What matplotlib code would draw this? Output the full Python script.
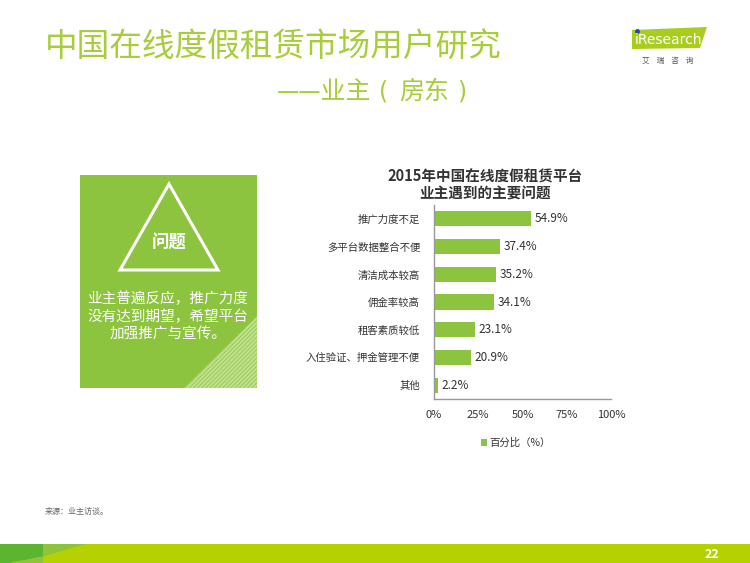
import matplotlib
matplotlib.use("Agg")
import matplotlib.pyplot as plt
from matplotlib.patches import Polygon, Rectangle

plt.rcParams['font.family'] = ['Noto Sans CJK SC', 'DejaVu Sans']

categories = ['推广力度不足', '多平台数据整合不便', '清洁成本较高', '佣金率较高',
              '租客素质较低', '入住验证、押金管理不便', '其他']
values = [54.9, 37.4, 35.2, 34.1, 23.1, 20.9, 2.2]
xticks = [0, 25, 50, 75, 100]
xtick_labels = ['0%', '25%', '50%', '75%', '100%']

W, H = 750, 563
BAR = '#8cc43f'
TITLE_GREEN = '#a8cd3a'

fig = plt.figure(figsize=(7.5, 5.63), dpi=100)
fig.patch.set_facecolor('white')

# background layer in pixel coordinates
bg = fig.add_axes([0, 0, 1, 1])
bg.set_xlim(0, W)
bg.set_ylim(H, 0)
bg.axis('off')

# page title
bg.text(45, 47, '中国在线度假租赁市场用户研究', fontsize=23.5, color=TITLE_GREEN,
        va='center', ha='left')
bg.text(277, 92, '——业主', fontsize=18, color=TITLE_GREEN,
        va='center', ha='left')
bg.text(384, 92, '(', fontsize=17, color=TITLE_GREEN, va='center',
        ha='center', family='DejaVu Sans')
bg.text(399, 92, '房东', fontsize=18, color=TITLE_GREEN,
        va='center', ha='left')
bg.text(462, 92, ')', fontsize=17, color=TITLE_GREEN, va='center',
        ha='center', family='DejaVu Sans')

# logo
bg.add_patch(Polygon([(632, 30), (707, 27), (700, 48), (632, 49)],
                     closed=True, facecolor='#a8cd1e', edgecolor='none'))
bg.text(635, 39.5, 'iResearch', fontsize=10, color='white', va='center',
        ha='left', family='DejaVu Sans')
bg.plot([636.5], [31], marker='o', markersize=2.5, color='#1f4e9c')
bg.text(668, 61, '艾    瑞    咨    询', fontsize=5.5, color='#555555',
        va='center', ha='center')

# left panel
bg.add_patch(Rectangle((80, 175), 177, 213, facecolor='#8cc43f',
                       edgecolor='none'))
bg.add_patch(Polygon([(257, 316), (257, 388), (184, 388)], closed=True,
                     facecolor='#a2d05e', edgecolor='#c6e39c',
                     hatch='////////', linewidth=0))
bg.add_patch(Polygon([(169, 184), (218, 270), (120, 270)], closed=True,
                     facecolor='none', edgecolor='white', linewidth=2.2))
bg.text(169, 243, '问题', fontsize=12.5, color='white', weight='bold',
        va='center', ha='center')
bg.text(168, 316, '业主普遍反应，推广力度\n没有达到期望，希望平台\n加强推广与宣传。',
        fontsize=10.5, color='white', va='center', ha='center',
        linespacing=1.25)

# source note
bg.text(45, 511, '来源：业主访谈。', fontsize=5.8, color='#666666',
        va='center', ha='left')

# footer band
bg.add_patch(Rectangle((0, 544), W, 19, facecolor='#b5d200', edgecolor='none'))
bg.add_patch(Polygon([(43, 544), (86, 544), (43, 556.5)], closed=True,
                     facecolor='#8fc43a', edgecolor='none'))
bg.add_patch(Polygon([(0, 544), (43, 544), (43, 556.5), (10, 563), (0, 563)],
                     closed=True, facecolor='#5cb531', edgecolor='none'))
bg.add_patch(Polygon([(10, 563), (43, 556.5), (43, 563)], closed=True,
                     facecolor='#8fc43a', edgecolor='none'))
bg.text(712, 554, '22', fontsize=9, color='white', weight='bold',
        va='center', ha='center')

# bar chart
ax = fig.add_axes([434 / W, 1 - 399 / H, (611 - 434) / W, (399 - 205) / H])
pos = list(range(len(categories)))
ax.barh(pos, values, height=0.55, color=BAR)
ax.set_ylim(len(categories) - 0.5, -0.5)
ax.set_xlim(0, 100)
ax.set_yticks(pos)
ax.set_yticklabels(categories, fontsize=7.5, color='#333333')
ax.set_xticks(xticks)
ax.set_xticklabels(xtick_labels, fontsize=8, color='#333333')
ax.tick_params(axis='both', length=0)
ax.tick_params(axis='y', pad=10)
ax.tick_params(axis='x', pad=8)
for s in ['top', 'right']:
    ax.spines[s].set_visible(False)
for s in ['left', 'bottom']:
    ax.spines[s].set_color('#999999')
    ax.spines[s].set_linewidth(1)
for i, v in enumerate(values):
    ax.text(v + 2, i, f'{v}%', va='center', ha='left', fontsize=8.5,
            color='#333333')

bg.text(485, 185, '2015年中国在线度假租赁平台\n业主遇到的主要问题', fontsize=10.5,
        weight='bold', color='#333333', va='center', ha='center',
        linespacing=1.1)

# legend
bg.add_patch(Rectangle((481, 439), 6, 7, facecolor=BAR, edgecolor='none'))
bg.text(489, 443, '百分比（%）', fontsize=7.5, color='#333333', va='center',
        ha='left')

fig.savefig('out.png', dpi=100)
